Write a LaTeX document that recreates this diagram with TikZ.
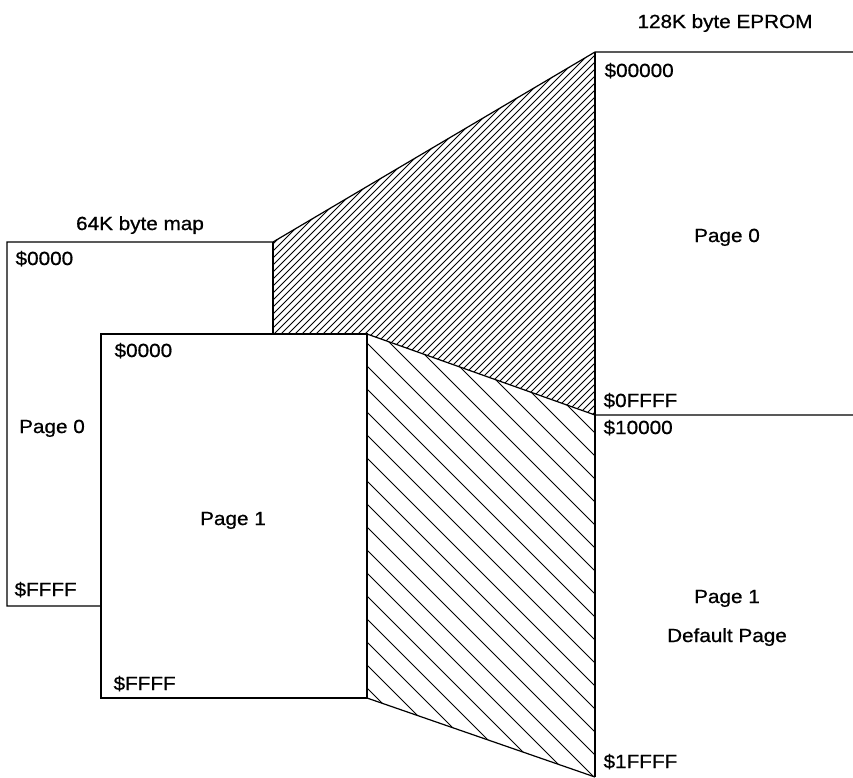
\documentclass[tikz,border=0pt]{standalone}
\usepackage{fontspec}
\setmainfont[FakeStretch=1.09,FakeBold=0.8]{Liberation Sans}
\begin{document}
\begin{tikzpicture}[x=1pt,y=-1pt,line width=1.2pt,
  txt/.style={inner sep=0pt,font=\fontsize{19}{23}\selectfont},
  lbl/.style={txt,anchor=base west},
  ctr/.style={txt,anchor=base},
  hatch/.style={line width=0.95pt}]
\useasboundingbox (0,0) rectangle (853,777);
% corner coordinates
\coordinate (lTL) at (7,242);
\coordinate (lTR) at (273,242);
\coordinate (lBL) at (7,606);
\coordinate (lBR) at (101,606);
\coordinate (lMR) at (273,334);
\coordinate (pTL) at (101,334);
\coordinate (pTR) at (367,334);
\coordinate (pBR) at (367,698);
\coordinate (pBL) at (101,698);
\coordinate (eTL) at (595,52);
\coordinate (eTR) at (853,52);
\coordinate (eML) at (595,415);
\coordinate (eMR) at (853,415);
\coordinate (eBL) at (595,777);
% dense hatch (page 0 mapping)
\begin{scope}
  \clip (lTR) -- (eTL) -- (eML) -- (pTR) -- (lMR) -- cycle;
  \foreach \c in {300,307,...,1030}
    \draw[hatch] (200,\c-200) -- (700,\c-700);
\end{scope}
% sparse hatch (page 1 mapping)
\begin{scope}
  \clip (pTR) -- (eML) -- (eBL) -- (pBR) -- cycle;
  \foreach \c in {-300,-277,...,440}
    \draw[hatch] (300,300+\c) -- (700,700+\c);
\end{scope}
% outlines
\draw (lBR) -- (lBL) -- (lTL) -- (lTR) -- (eTL) -- (eTR);
\draw (lTR) -- (lMR);
\draw (pTL) -- (pTR) -- (pBR) -- (pBL) -- cycle;
\draw (pTR) -- (eML) -- (eMR);
\draw (pBR) -- (eBL);
\draw (eTL) -- (eBL);
% texts
\node[ctr] (t64) at (140,230) {64K byte map};
\node[lbl] (l0a) at (15,265) {\$0000};
\node[ctr] (lp0) at (52,433) {Page 0};
\node[lbl] (l0b) at (14,596) {\$FFFF};
\node[lbl] (p1a) at (114,357) {\$0000};
\node[ctr] (pp1) at (233,525) {Page 1};
\node[lbl] (p1b) at (113,690) {\$FFFF};
\node[ctr] (t128) at (725,28) {128K byte EPROM};
\node[lbl] (e0a) at (604,77) {\$00000};
\node[ctr] (ep0) at (727,242) {Page 0};
\node[lbl] (e0b) at (603,407) {\$0FFFF};
\node[lbl] (e1a) at (603,434) {\$10000};
\node[ctr] (ep1) at (727,603) {Page 1};
\node[ctr] (edf) at (727,642) {Default Page};
\node[lbl] (e1b) at (603,768) {\$1FFFF};
\end{tikzpicture}
\end{document}
